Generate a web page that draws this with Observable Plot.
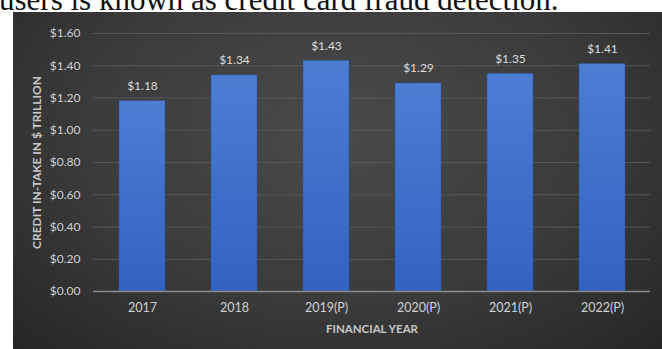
<!DOCTYPE html>
<html>
<head>
<meta charset="utf-8">
<script src="https://cdn.jsdelivr.net/npm/d3@7"></script>
<script src="https://cdn.jsdelivr.net/npm/@observablehq/plot@0.6"></script>
<style>
  html, body { margin: 0; padding: 0; background: #fff; width: 662px; height: 349px; overflow: hidden; }
  #top { position: relative; height: 12px; overflow: hidden; }
  #top span { position: absolute; left: -1px; top: -16px; font-family: "Liberation Serif", "DejaVu Serif", serif; font-size: 31px; line-height: 31px; color: #111; white-space: nowrap; }
  #wrap { display: flex; }
  #pad { width: 13px; height: 337px; background: #fff; }
  #panel { width: 649px; height: 337px; background: radial-gradient(ellipse at 50% 35%, #4a4a4a 0%, #3b3b3b 55%, #262626 100%); }
  #panel svg { display: block; }
</style>
</head>
<body>
<div id="top"><span>users is known as credit card fraud detection.</span></div>
<div id="wrap"><div id="pad"></div><div id="panel"></div></div>
<script>
const years = ["2017", "2018", "2019(P)", "2020(P)", "2021(P)", "2022(P)"];
const values = [1.18, 1.34, 1.43, 1.29, 1.35, 1.41];
const yTicks = [0, 0.2, 0.4, 0.6, 0.8, 1.0, 1.2, 1.4, 1.6];

const data = years.map((y, i) => ({year: y, value: values[i]}));
const font = "Lato, 'Open Sans', sans-serif";

const chart = Plot.plot({
  width: 649,
  height: 337,
  marginLeft: 80,
  marginRight: 12,
  marginTop: 21,
  marginBottom: 58,
  style: {background: "transparent", fontFamily: font, fontSize: "12px", color: "#d4d4d4"},
  x: {domain: years, paddingInner: 0.5, paddingOuter: 0.25, label: null},
  y: {domain: [0, 1.6], label: null},
  marks: [
    Plot.ruleY(yTicks.filter(d => d > 0), {stroke: "#575757", strokeWidth: 1}),
    Plot.barY(data, {x: "year", y: "value", fill: "url(#barGrad)", stroke: "#2f55a0", strokeWidth: 0.5}),
    Plot.ruleY([0], {stroke: "#8c8c8c", strokeWidth: 1.5}),
    Plot.text(data, {x: "year", y: "value", text: d => "$" + d.value.toFixed(2), dy: -15, fill: "#dcdcdc", fontSize: 12}),
    Plot.axisY({ticks: yTicks, tickSize: 0, tickPadding: 13, tickFormat: d => "$" + d.toFixed(2), fill: "#d0d0d0", fontSize: 12, label: null}),
    Plot.axisX({tickSize: 0, tickPadding: 12, fill: "#d0d0d0", fontSize: 12.5, label: null}),
    Plot.text(["FINANCIAL YEAR"], {frameAnchor: "bottom", dy: 41, fill: "#c8c8c8", fontWeight: "bold", fontSize: 11.5}),
    Plot.text(["CREDIT IN-TAKE IN $ TRILLION"], {frameAnchor: "left", textAnchor: "middle", dx: -56, rotate: -90, fill: "#c8c8c8", fontWeight: "bold", fontSize: 12})
  ]
});

const ns = "http://www.w3.org/2000/svg";
const defs = document.createElementNS(ns, "defs");
defs.innerHTML = '<linearGradient id="barGrad" x1="0" y1="0" x2="0" y2="1"><stop offset="0" stop-color="#4d7dd3"/><stop offset="1" stop-color="#3462c2"/></linearGradient>';
chart.insertBefore(defs, chart.firstChild);
document.getElementById("panel").appendChild(chart);
</script>
</body>
</html>
